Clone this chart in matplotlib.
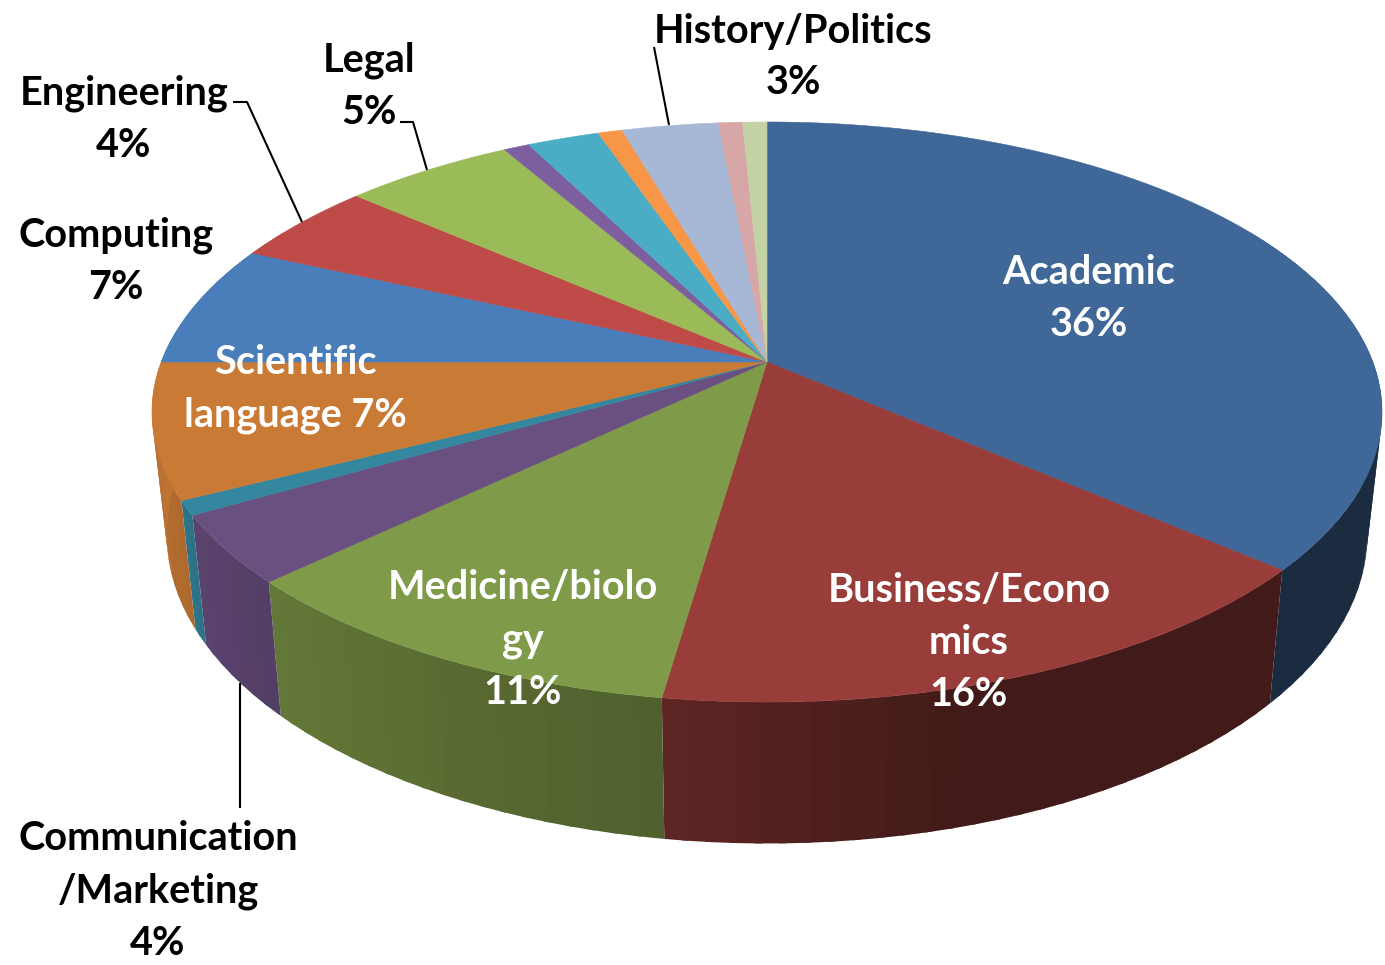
import numpy as np
from matplotlib import pyplot as plt
from matplotlib.colors import to_rgb
from matplotlib.patches import Polygon

plt.rcParams["font.family"] = ["Lato", "DejaVu Sans"]

categories = [
    "Academic", "Business/Econo\nmics", "Medicine/biolo\ngy", "Communication\n/Marketing",
    "Other 1", "Scientific\nlanguage", "Computing", "Engineering", "Legal",
    "Other 2", "Other 3", "Other 4", "History/Politics", "Other 5", "Other 6",
]
values = [36.4, 15.9, 10.6, 3.8, 0.8, 7.5, 6.8, 4.6, 5.3, 0.8, 2.25, 0.75, 3.0, 0.75, 0.75]
colors = [
    "#3f6797", "#983d3a", "#7f9a48", "#6a4f81", "#34879f", "#c97a35", "#4a7ebb", "#be4b48",
    "#9bbb59", "#7d5fa0", "#4bacc6", "#f79646", "#a7b8d6", "#d7a6a7", "#c3d3a5",
]
white_labels = [
    ("Academic\n36%", 1089, 298),
    ("Business/Econo\nmics\n16%", 969, 642),
    ("Medicine/biolo\ngy\n11%", 523, 640),
    ("Scientific\nlanguage 7%", 295, 389),
]
black_labels = [
    ("History/Politics\n3%", 793, 57),
    ("Legal\n5%", 369, 86),
    ("Engineering\n4%", 124, 119),
    ("Computing\n7%", 116, 261),
    ("Communication\n/Marketing\n4%", 158, 891),
]
leaders = [
    ([654, 669], [47, 125]),
    ([400, 413, 427], [122, 122, 170]),
    ([233, 247, 302], [102, 102, 222]),
    ([240, 240], [683, 808]),
]

CX, CY = 767, 362
TILT = 0.1724
RX, RY = 605.8, 281.4


def rim(theta):
    # circle seen in perspective, theta clockwise from the top in degrees
    t = np.radians(theta)
    den = 1 + TILT * np.cos(t)
    return CX + RX * np.sin(t) / den, CY - RY * np.cos(t) / den


def lower(x, y):
    return CX + 0.976 * (x - CX), 482 + 1.063 * (y - CY)


def shade(theta):
    return np.interp(theta, [90, 165, 188, 226, 242, 270], [0.43, 0.43, 0.62, 0.78, 0.86, 0.96])


fig = plt.figure(figsize=(13.85, 9.65), dpi=100)
ax = fig.add_axes([0, 0, 1, 1])
ax.set_xlim(0, 1385)
ax.set_ylim(965, 0)
ax.axis("off")

edges = np.concatenate([[0], np.cumsum(values)]) / sum(values) * 360

# side wall first, the top covers what is behind
for i, c in enumerate(colors):
    start, end = max(edges[i], 60), min(edges[i + 1], 300)
    if end <= start:
        continue
    steps = np.linspace(start, end, int((end - start) / 2) + 2)
    base = np.array(to_rgb(c))
    for a, b in zip(steps[:-1], steps[1:]):
        # run each band a little under the next one so no seam shows
        xs, ys = rim(np.linspace(a, min(b + 0.6, end), 6))
        xl, yl = lower(xs, ys)
        pts = list(zip(xs, ys)) + list(zip(xl[::-1], yl[::-1]))
        ax.add_patch(Polygon(pts, fc=base * shade((a + b) / 2), ec="none"))

for i, c in enumerate(colors):
    th = np.linspace(edges[i], edges[i + 1], max(int(edges[i + 1] - edges[i]) * 2, 4))
    xs, ys = rim(th)
    pts = [(CX, CY)] + list(zip(xs, ys))
    ax.add_patch(Polygon(pts, fc=c, ec=c, lw=0.4))

for xs, ys in leaders:
    ax.plot(xs, ys, color="black", lw=1.5, solid_capstyle="butt")

for text, x, y in white_labels:
    ax.text(x, y, text, color="white", fontsize=28.5, fontweight="bold", ha="center", va="center",
            linespacing=1.5)
for text, x, y in black_labels:
    ax.text(x, y, text, color="black", fontsize=28.5, fontweight="bold", ha="center", va="center",
            linespacing=1.5)

fig.savefig("out.png", dpi=100)
